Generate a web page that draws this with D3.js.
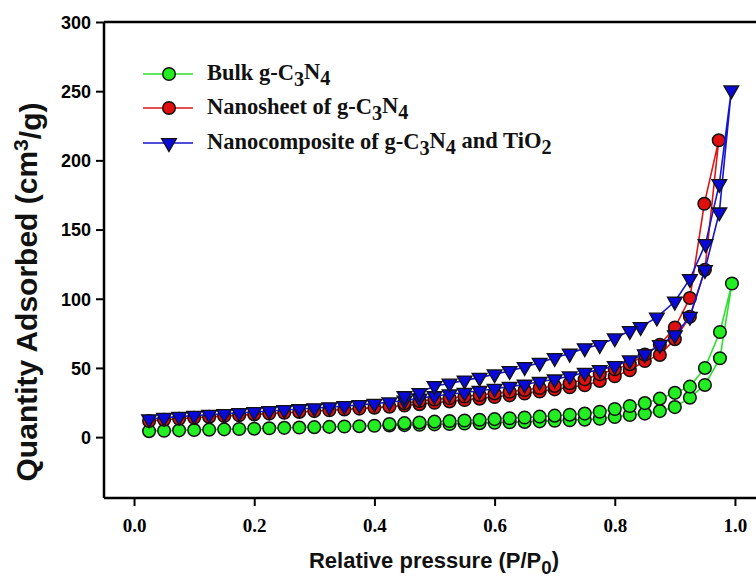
<!DOCTYPE html>
<html><head><meta charset="utf-8">
<script src="https://cdn.jsdelivr.net/npm/d3@7"></script>
<style>html,body{margin:0;padding:0;background:#fff;}</style>
</head><body><svg id="chart" width="756" height="580"></svg>
<script>
// ---------- DATA ----------
const seriesNames = ["Bulk g-C_3N_4", "Nanosheet of g-C_3N_4", "Nanocomposite of g-C_3N_4 and TiO_2"];
const xTicks = [0.0, 0.2, 0.4, 0.6, 0.8, 1.0];
const yTicks = [0, 50, 100, 150, 200, 250, 300];

// Bulk g-C3N4 : adsorption then desorption branch
const bulkAdsP = [0.025,0.05,0.075,0.1,0.125,0.15,0.175,0.2,0.225,0.25,0.275,0.3,0.325,0.35,0.375,0.4,0.425,0.45,0.475,0.5,0.525,0.55,0.575,0.6,0.625,0.65,0.675,0.7,0.725,0.75,0.775,0.8,0.825,0.85,0.875,0.9,0.925,0.95,0.975,0.995];
const bulkAdsQ = [4.3,4.6,4.9,5.1,5.4,5.6,5.9,6.1,6.4,6.7,6.9,7.2,7.4,7.7,7.9,8.2,8.4,8.7,8.9,9.2,9.5,9.8,10.1,10.4,10.7,11.0,11.4,11.8,12.2,12.6,13.3,14.5,16,17,18.8,21.7,28.5,37.7,57,111];
const bulkDesP = [0.975,0.95,0.925,0.9,0.875,0.85,0.825,0.8,0.775,0.75,0.725,0.7,0.675,0.65,0.625,0.6,0.575,0.55,0.525,0.5,0.475,0.45,0.425];
const bulkDesQ = [76,50,36.5,32,27.8,24.6,22.5,20.3,18.3,17,16.2,15.5,14.8,14.2,13.6,13,12.5,12,11.6,11.2,10.6,10.1,9.4];

// Nanosheet of g-C3N4
const sheetAdsP = [0.025,0.05,0.075,0.1,0.125,0.15,0.175,0.2,0.225,0.25,0.275,0.3,0.325,0.35,0.375,0.4,0.425,0.45,0.475,0.5,0.525,0.55,0.575,0.6,0.625,0.65,0.675,0.7,0.725,0.75,0.775,0.8,0.825,0.85,0.875,0.9,0.925,0.95,0.973];
const sheetAdsQ = [11.6,12.5,13.3,14,14.6,15.2,15.8,16.4,17,17.6,18.2,18.8,19.4,20,20.6,21.3,22,22.8,23.8,24.8,25.8,26.8,27.8,29,30.2,31.5,33,34.5,36,37.5,40.6,44,48.3,55,59.4,70.8,87,121,214.5];
const sheetDesP = [0.949,0.925,0.9,0.875,0.85,0.825,0.8,0.775,0.75,0.725,0.7,0.675,0.65,0.625,0.6,0.575,0.55,0.525,0.5,0.475,0.45];
const sheetDesQ = [168.6,100.5,79.2,66.7,59.7,52.7,49,45.4,41.8,39,37,35.5,34,32.8,31.6,30.4,29.3,28.2,27.2,26,24.5];

// Nanocomposite of g-C3N4 and TiO2
const compAdsP = [0.025,0.05,0.075,0.1,0.125,0.15,0.175,0.2,0.225,0.25,0.275,0.3,0.325,0.35,0.375,0.4,0.425,0.45,0.475,0.5,0.525,0.55,0.575,0.6,0.625,0.65,0.675,0.7,0.725,0.75,0.775,0.8,0.825,0.85,0.875,0.9,0.925,0.95,0.974,0.994];
const compAdsQ = [13,14,14.8,15.5,16.2,16.8,17.5,18.2,18.9,19.6,20.3,21,21.7,22.5,23.3,24.2,25.2,26.5,28,29.7,31,32.2,33.5,35,36.5,38,40,41.8,44,46.6,48.6,51.4,55.6,60,66.7,73.7,87,120.8,162.5,250.7];
const compDesP = [0.974,0.951,0.925,0.9,0.87,0.843,0.825,0.8,0.775,0.75,0.725,0.7,0.675,0.65,0.625,0.6,0.575,0.55,0.525,0.5,0.475,0.45];
const compDesQ = [183,139.6,114.3,98,86.5,79.7,76.8,71.5,66.7,64.3,60.4,57.3,53.8,50.7,47.8,45.5,43,41,38.8,37,32,29.7];

// ---------- BUILD ----------
function pts(p, q){ return p.map((v,i)=>({x:v, y:q[i]})); }
const series = [
  {name: seriesNames[0], line:"#2fdf2f", fill:"#22ee22", shape:"circle",
   data: pts(bulkAdsP,bulkAdsQ).concat(pts(bulkDesP,bulkDesQ))},
  {name: seriesNames[1], line:"#dd1515", fill:"#e01010", shape:"circle",
   data: pts(sheetAdsP,sheetAdsQ).concat(pts(sheetDesP,sheetDesQ))},
  {name: seriesNames[2], line:"#1515d0", fill:"#0a0ad8", shape:"triangle",
   data: pts(compAdsP,compAdsQ).concat(pts(compDesP,compDesQ))}
];

const svg = d3.select("#chart");
const x = d3.scaleLinear().domain([-0.05, 1.05]).range([104, 765]);
const y = d3.scaleLinear().domain([-44, 300]).range([498, 22]);

const serif = "'Liberation Serif','Times New Roman',serif";
const sans = "'Liberation Sans',Arial,sans-serif";

// axes
const xAxis = svg.append("g").attr("transform","translate(0,498)")
  .call(d3.axisBottom(x).tickValues(xTicks).tickSize(8).tickFormat(d3.format(".1f")));
const yAxis = svg.append("g").attr("transform","translate(104,0)")
  .call(d3.axisLeft(y).tickValues(yTicks).tickSize(8));
[xAxis,yAxis].forEach(a=>{
  a.select(".domain").attr("stroke","#000").attr("stroke-width",2.5);
  a.selectAll(".tick line").attr("stroke","#000").attr("stroke-width",2);
});
xAxis.selectAll(".domain").attr("d", `M104,0H756`);
yAxis.selectAll(".domain").attr("d", `M0,${y(-44)}V${y(300)}`);
xAxis.selectAll(".tick text").attr("font-family",serif).attr("font-weight","bold")
  .attr("font-size",19).attr("fill","#000").attr("dy","1.2em");
yAxis.selectAll(".tick text").attr("font-family",sans).attr("font-weight","bold")
  .attr("font-size",18).attr("fill","#000").attr("dx","-2").attr("dy","0.35em");
// top frame line
svg.append("line").attr("x1",104).attr("x2",756).attr("y1",y(300)).attr("y2",y(300))
  .attr("stroke","#000").attr("stroke-width",2.5);

// series
const line = d3.line().x(d=>x(d.x)).y(d=>y(d.y));
const tri = d3.symbol().type(d3.symbolTriangle).size(95);
function drawMarker(g, s, cx, cy){
  if (s.shape === "circle") {
    g.append("circle").attr("cx",cx).attr("cy",cy).attr("r",6.3)
      .attr("fill",s.fill).attr("stroke","#111").attr("stroke-width",1.5);
  } else {
    g.append("path").attr("d",tri()).attr("transform",`translate(${cx},${cy}) rotate(180)`)
      .attr("fill",s.fill).attr("stroke","#111").attr("stroke-width",1.3);
  }
}
series.forEach(s=>{
  const g = svg.append("g");
  g.append("path").datum(s.data).attr("d",line).attr("fill","none")
    .attr("stroke",s.line).attr("stroke-width",1.6);
  s.data.forEach(d=>drawMarker(g, s, x(d.x), y(d.y)));
});

// rich text helper: _n subscript, ^n superscript
function richText(sel, str, small){
  const parts = str.split(/([_^].)/).filter(t=>t.length);
  let shift = 0;
  parts.forEach(p=>{
    if (p[0]==="_" || p[0]==="^") {
      const off = p[0]==="_" ? 0.3 : -0.45;
      sel.append("tspan").attr("font-size",small).attr("dy",(off-shift)+"em").text(p.slice(1));
      shift = off;
    } else {
      sel.append("tspan").attr("dy",(-shift)+"em").text(p);
      shift = 0;
    }
  });
}

// legend
const legRows = [74, 108, 143];
series.forEach((s,i)=>{
  const g = svg.append("g");
  g.append("line").attr("x1",143).attr("x2",193).attr("y1",legRows[i]).attr("y2",legRows[i])
    .attr("stroke",s.line).attr("stroke-width",1.6);
  drawMarker(g, s, 169, legRows[i]);
  const t = g.append("text").attr("x",207).attr("y",legRows[i]+6)
    .attr("font-family",serif).attr("font-weight","bold").attr("font-size",22.5).attr("fill","#111");
  richText(t, s.name, "0.9em");
});

// axis titles
const xt = svg.append("text").attr("x",434).attr("y",568).attr("text-anchor","middle")
  .attr("font-family",sans).attr("font-weight","bold").attr("font-size",22).attr("fill","#111");
richText(xt, "Relative pressure (P/P_0)", "0.85em");
const yt = svg.append("text").attr("transform","translate(37,292) rotate(-90)").attr("text-anchor","middle")
  .attr("font-family",sans).attr("font-weight","bold").attr("font-size",30).attr("fill","#111");
richText(yt, "Quantity Adsorbed (cm^3/g)", "0.7em");
</script></body></html>
